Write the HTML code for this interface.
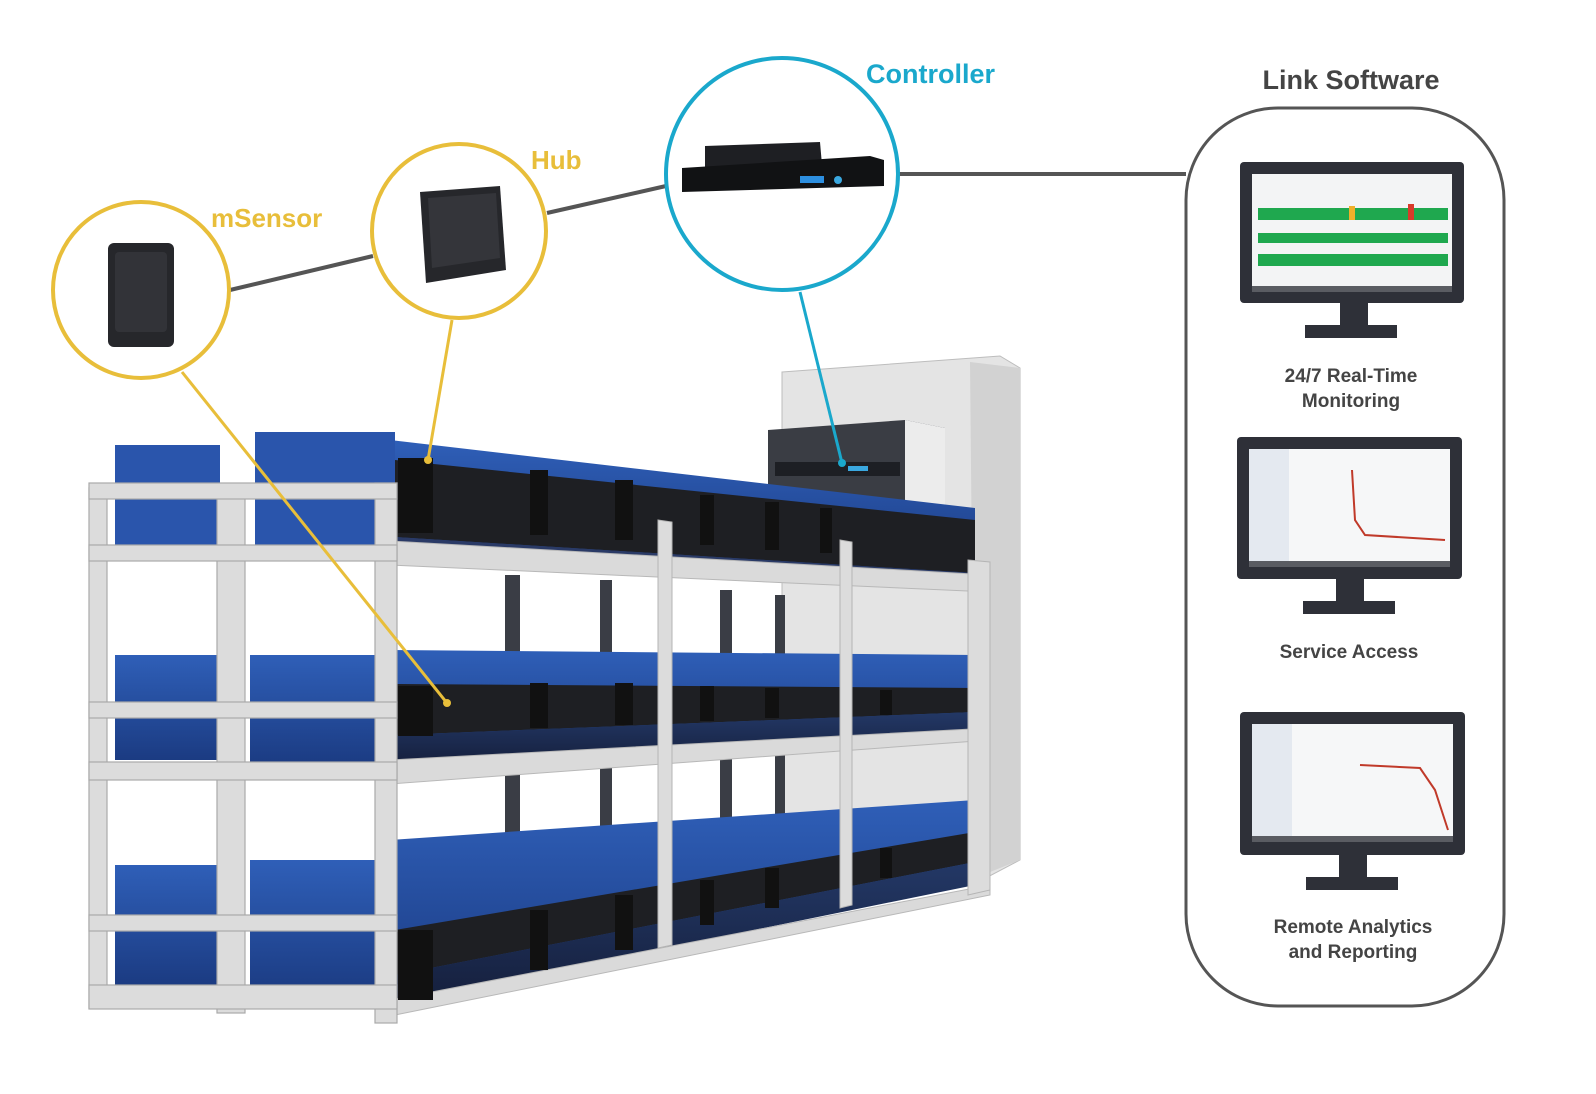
<!DOCTYPE html>
<html><head><meta charset="utf-8"><style>
html,body{margin:0;padding:0;background:#fff;}
svg{display:block;font-family:"Liberation Sans",sans-serif;}
</style></head><body>
<svg width="1596" height="1094" viewBox="0 0 1596 1094" xmlns="http://www.w3.org/2000/svg">
<rect width="1596" height="1094" fill="#fff"/>
<defs>
<linearGradient id="blu" x1="0" y1="0" x2="0" y2="1"><stop offset="0" stop-color="#2f5fb8"/><stop offset="1" stop-color="#1b3b82"/></linearGradient>
<linearGradient id="dblu" x1="0" y1="0" x2="0" y2="1"><stop offset="0" stop-color="#233866"/><stop offset="1" stop-color="#151f3c"/></linearGradient>
</defs>

<!-- cabinet -->
<polygon points="782,372 1000,356 1020,368 1020,860 982,880 782,880" fill="#e4e4e4" stroke="#bdbdbd"/>
<polygon points="970,362 1020,368 1020,860 975,878" fill="#d2d2d2"/>
<polygon points="768,430 905,420 945,428 945,500 768,500" fill="#3a3d44"/>
<rect x="775" y="462" width="125" height="14" fill="#1d1f24"/>
<rect x="848" y="466" width="20" height="5" fill="#3aa8e0"/>
<polygon points="905,420 945,428 945,520 905,510" fill="#ececec"/>

<!-- right section batteries top row -->
<polygon points="390,440 975,508 975,575 390,560" fill="url(#blu)"/>
<polygon points="395,460 975,520 975,573 395,537" fill="#1e1f23"/>
<polygon points="395,537 975,573 975,580 395,548" fill="#2a3a66"/>
<!-- beam 1 -->
<polygon points="390,541 990,575 990,592 390,565" fill="#dadada" stroke="#b8b8b8"/>
<!-- middle gap posts -->
<g fill="#3a3d45">
<rect x="505" y="575" width="15" height="280"/><rect x="600" y="580" width="12" height="270"/>
<rect x="720" y="590" width="12" height="240"/><rect x="775" y="595" width="10" height="230"/>
</g>
<!-- row 2 -->
<polygon points="390,650 975,655 975,735 390,768" fill="url(#blu)"/>
<polygon points="395,684 975,688 975,712 395,735" fill="#1e1f23"/>
<polygon points="395,735 975,712 975,735 395,765" fill="url(#dblu)"/>
<!-- beam 2 -->
<polygon points="390,760 990,728 990,740 390,784" fill="#dadada" stroke="#b8b8b8"/>
<!-- row 3 -->
<polygon points="390,840 975,800 975,875 390,1005" fill="url(#blu)"/>
<polygon points="395,930 975,832 975,862 395,975" fill="#1e1f23"/>
<polygon points="395,975 975,862 975,885 395,1003" fill="url(#dblu)"/>
<polygon points="390,1000 990,885 990,895 390,1016" fill="#dadada" stroke="#b8b8b8"/>
<!-- right section uprights -->
<g fill="#dcdcdc" stroke="#b5b5b5">
<polygon points="658,520 672,522 672,945 658,948"/>
<polygon points="840,540 852,542 852,905 840,908"/>
<polygon points="968,560 990,562 990,890 968,895"/>
</g>
<!-- tray brackets -->
<g fill="#111">
<rect x="398" y="458" width="35" height="75"/><rect x="530" y="470" width="18" height="65"/><rect x="615" y="480" width="18" height="60"/>
<rect x="700" y="495" width="14" height="50"/><rect x="765" y="502" width="14" height="48"/><rect x="820" y="508" width="12" height="45"/>
<rect x="398" y="686" width="35" height="50"/><rect x="530" y="683" width="18" height="45"/><rect x="615" y="683" width="18" height="42"/>
<rect x="700" y="686" width="14" height="35"/><rect x="765" y="688" width="14" height="30"/><rect x="880" y="690" width="12" height="25"/>
<rect x="398" y="930" width="35" height="70"/><rect x="530" y="910" width="18" height="60"/><rect x="615" y="895" width="18" height="55"/>
<rect x="700" y="880" width="14" height="45"/><rect x="765" y="868" width="14" height="40"/><rect x="880" y="848" width="12" height="30"/>
</g>

<!-- left section batteries -->
<rect x="115" y="445" width="105" height="110" fill="#2a55ac"/>
<rect x="255" y="432" width="140" height="120" fill="#2a55ac"/>
<rect x="115" y="655" width="105" height="105" fill="url(#blu)"/>
<rect x="250" y="655" width="140" height="110" fill="url(#blu)"/>
<rect x="115" y="865" width="105" height="120" fill="url(#blu)"/>
<rect x="250" y="860" width="140" height="135" fill="url(#blu)"/>
<!-- left frame -->
<g fill="#dcdcdc" stroke="#a9a9a9" stroke-width="1.2">
<rect x="89" y="488" width="18" height="520"/>
<rect x="217" y="488" width="28" height="525"/>
<rect x="375" y="483" width="22" height="540"/>
<rect x="89" y="483" width="308" height="16"/>
<rect x="89" y="545" width="308" height="16"/>
<rect x="89" y="702" width="308" height="16"/>
<rect x="89" y="762" width="308" height="18"/>
<rect x="89" y="915" width="308" height="16"/>
<rect x="89" y="985" width="308" height="24"/>
</g>

<!-- circles & connectors -->
<g stroke="#555" stroke-width="4" fill="none">
<line x1="230" y1="290" x2="373" y2="256"/>
<line x1="547" y1="213" x2="666" y2="186"/>
<line x1="898" y1="174" x2="1186" y2="174"/>
</g>
<g stroke="#e8be3a" stroke-width="3" fill="none">
<line x1="182" y1="372" x2="447" y2="703"/>
<line x1="452" y1="320" x2="428" y2="460"/>
</g>
<line x1="800" y1="292" x2="842" y2="463" stroke="#1aa8cc" stroke-width="3"/>
<circle cx="447" cy="703" r="4" fill="#e8be3a"/><circle cx="428" cy="460" r="4" fill="#e8be3a"/><circle cx="842" cy="463" r="4" fill="#1aa8cc"/>

<circle cx="141" cy="290" r="88" fill="#fff" stroke="#e8be3a" stroke-width="4"/>
<circle cx="459" cy="231" r="87" fill="#fff" stroke="#e8be3a" stroke-width="4"/>
<circle cx="782" cy="174" r="116" fill="#fff" stroke="#1aa8cc" stroke-width="4"/>

<!-- mSensor device -->
<rect x="108" y="243" width="66" height="104" rx="6" fill="#26272b"/>
<rect x="115" y="252" width="52" height="80" rx="4" fill="#323338"/>
<!-- hub device -->
<polygon points="420,192 500,186 506,270 426,283" fill="#26272b"/>
<polygon points="428,198 496,193 500,258 432,268" fill="#34353a"/>
<!-- controller -->
<polygon points="705,146 820,142 822,165 705,168" fill="#1e1f23"/>
<polygon points="682,168 870,156 884,160 884,186 682,192" fill="#111214"/>
<rect x="800" y="176" width="24" height="7" fill="#2d8fe0"/>
<circle cx="838" cy="180" r="4" fill="#3aa8e0"/>

<!-- labels -->
<text x="211" y="227" font-size="26" font-weight="bold" fill="#e8be3a">mSensor</text>
<text x="531" y="169" font-size="26" font-weight="bold" fill="#e8be3a">Hub</text>
<text x="866" y="83" font-size="27" font-weight="bold" fill="#1aa8cc">Controller</text>

<!-- Link Software -->
<text x="1351" y="89" font-size="27" font-weight="bold" fill="#444" text-anchor="middle">Link Software</text>
<rect x="1186" y="108" width="318" height="898" rx="92" fill="none" stroke="#555" stroke-width="3"/>

<!-- monitor 1 -->
<rect x="1240" y="162" width="224" height="141" rx="4" fill="#2e3038"/>
<rect x="1252" y="174" width="200" height="112" fill="#f3f4f5"/>
<rect x="1252" y="286" width="200" height="6" fill="#5a5c62"/>
<rect x="1340" y="303" width="28" height="22" fill="#2e3038"/>
<rect x="1305" y="325" width="92" height="13" fill="#2e3038"/>
<rect x="1258" y="208" width="190" height="12" fill="#1fa84f"/>
<rect x="1349" y="206" width="6" height="14" fill="#f0b02a"/>
<rect x="1408" y="204" width="6" height="16" fill="#d93a2a"/>
<rect x="1258" y="233" width="190" height="10" fill="#1fa84f"/>
<rect x="1258" y="254" width="190" height="12" fill="#1fa84f"/>
<text x="1351" y="382" font-size="19" font-weight="bold" fill="#444" text-anchor="middle">24/7 Real-Time</text>
<text x="1351" y="407" font-size="19" font-weight="bold" fill="#444" text-anchor="middle">Monitoring</text>

<!-- monitor 2 -->
<rect x="1237" y="437" width="225" height="142" rx="4" fill="#2e3038"/>
<rect x="1249" y="449" width="201" height="112" fill="#f6f7f8"/>
<rect x="1249" y="561" width="201" height="6" fill="#5a5c62"/>
<rect x="1249" y="449" width="40" height="112" fill="#e4e9f0"/>
<polyline points="1352,470 1355,520 1365,535 1445,540" stroke="#c03a2a" stroke-width="2" fill="none"/>
<rect x="1336" y="579" width="28" height="22" fill="#2e3038"/>
<rect x="1303" y="601" width="92" height="13" fill="#2e3038"/>
<text x="1349" y="658" font-size="19" font-weight="bold" fill="#444" text-anchor="middle">Service Access</text>

<!-- monitor 3 -->
<rect x="1240" y="712" width="225" height="143" rx="4" fill="#2e3038"/>
<rect x="1252" y="724" width="201" height="112" fill="#f6f7f8"/>
<rect x="1252" y="836" width="201" height="6" fill="#5a5c62"/>
<rect x="1252" y="724" width="40" height="112" fill="#e4e9f0"/>
<polyline points="1360,765 1420,768 1435,790 1448,830" stroke="#c03a2a" stroke-width="2" fill="none"/>
<rect x="1339" y="855" width="28" height="22" fill="#2e3038"/>
<rect x="1306" y="877" width="92" height="13" fill="#2e3038"/>
<text x="1353" y="933" font-size="19" font-weight="bold" fill="#444" text-anchor="middle">Remote Analytics</text>
<text x="1353" y="958" font-size="19" font-weight="bold" fill="#444" text-anchor="middle">and Reporting</text>
</svg>
</body></html>
